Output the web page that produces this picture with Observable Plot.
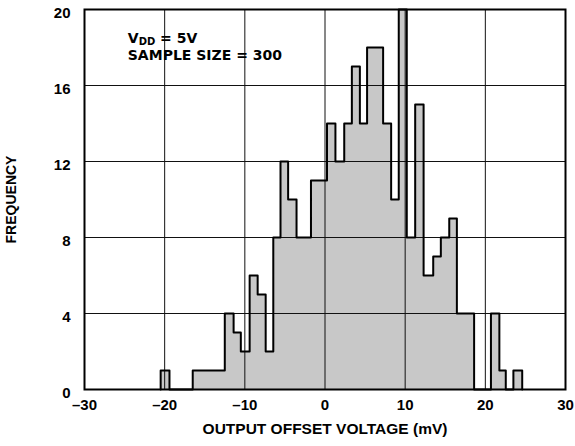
<!DOCTYPE html>
<html><head><meta charset="utf-8">
<script src="https://cdn.jsdelivr.net/npm/d3@7"></script>
<script src="https://cdn.jsdelivr.net/npm/@observablehq/plot@0.6"></script>
<style>
body{margin:0;background:#fff;}
#chart svg{display:block;}
</style>
</head><body><div id="chart"></div>
<script>
// Histogram bins (mV edges, frequency)
const binStart = [-20.5,-16.5,-12.5,-11.4,-10.5,-9.4,-8.4,-7.4,-6.45,-5.55,-4.6,-3.55,-1.75,0.25,1.3,2.4,3.35,4.35,5.25,7.25,8.25,9.2,10.2,11.25,12.3,13.5,14.45,15.5,16.45,20.7,21.75,23.5];
const binEnd   = [-19.4,-12.5,-11.4,-10.5,-9.4,-8.4,-7.4,-6.45,-5.55,-4.6,-3.55,-1.75,0.25,1.3,2.4,3.35,4.35,5.25,7.25,8.25,9.2,10.2,11.25,12.3,13.5,14.45,15.5,16.45,18.6,21.75,22.55,24.6];
const counts   = [1,1,4,3,2,6,5,2,8,12,10,8,11,14,12,14,17,14,18,14,10,20,8,15,6,7,8,9,4,4,1,1];

const xTicks = [-30,-20,-10,0,10,20,30];
const yTicks = [0,4,8,12,16,20];
const xGrid = [-20,-10,0,10,20];
const yGrid = [4,8,12,16];
const annotLines = ["V_DD = 5V", "SAMPLE SIZE = 300"];
const annotX = [-24.6, -24.6];
const annotY = [18.26, 17.36];
const xLabel = "OUTPUT OFFSET VOLTAGE (mV)";
const yLabel = "FREQUENCY";

// step outline built from the bins
const pts = [];
let prevEnd = null;
binStart.forEach((s, i) => {
  if (prevEnd === null) pts.push({x: s, y: 0});
  else if (s !== prevEnd) { pts.push({x: prevEnd, y: 0}); pts.push({x: s, y: 0}); }
  pts.push({x: s, y: counts[i]});
  pts.push({x: binEnd[i], y: counts[i]});
  prevEnd = binEnd[i];
});
pts.push({x: prevEnd, y: 0});

const fmt = d => d < 0 ? "\u2013" + Math.abs(d) : String(d);
const FONT = "'Liberation Sans', Arial, Helvetica, sans-serif";

const chart = Plot.plot({
  width: 575,
  height: 446,
  marginLeft: 84,
  marginRight: 10,
  marginTop: 9,
  marginBottom: 57,
  style: {fontFamily: FONT, fontSize: "15px", fontWeight: "bold", color: "#000", background: "#fff"},
  x: {domain: [-30, 30]},
  y: {domain: [0, 20]},
  marks: [
    Plot.area(pts, {x1: "x", y1: 0, y2: "y", fill: "#c8c8c8", curve: "linear"}),
    Plot.ruleX(xGrid, {stroke: "#111", strokeWidth: 1}),
    Plot.ruleY(yGrid, {stroke: "#111", strokeWidth: 1}),
    Plot.line(pts, {x: "x", y: "y", stroke: "#000", strokeWidth: 2, curve: "linear"}),
    Plot.frame({stroke: "#000", strokeWidth: 2}),
    Plot.axisX(xTicks, {tickSize: 0, tickPadding: 10, tickFormat: fmt, fontSize: 15, fontWeight: "bold", label: null}),
    Plot.axisX(xTicks, {tickSize: 0, tickFormat: () => "", label: xLabel, labelAnchor: "center", labelArrow: "none", labelOffset: 44, fontSize: 15.5, fontWeight: "bold"}),
    Plot.axisY(yTicks, {tickSize: 0, tickPadding: 14, dy: 3.5, tickFormat: fmt, fontSize: 15, fontWeight: "bold", label: null}),
    Plot.axisY(yTicks, {tickSize: 0, tickFormat: () => "", label: yLabel, labelAnchor: "center", labelArrow: "none", labelOffset: 78, fontSize: 14, fontWeight: "bold"}),
    Plot.text(annotLines, {x: (d, i) => annotX[i], y: (d, i) => annotY[i], text: d => d, textAnchor: "start", lineAnchor: "bottom", fontSize: 14, fontWeight: "bold", fontFamily: "'DejaVu Sans', sans-serif", fill: "#000", className: "annot"})
  ]
});
document.getElementById("chart").appendChild(chart);

// subscript for V_DD
d3.select(chart).selectAll(".annot text").each(function() {
  const t = d3.select(this);
  if (t.text() === "V_DD = 5V") {
    t.text("");
    t.append("tspan").text("V");
    t.append("tspan").attr("dy", 2.5).attr("font-size", 10).text("DD");
    t.append("tspan").attr("dy", -2.5).text(" = 5V");
  }
});
</script>
</body></html>
